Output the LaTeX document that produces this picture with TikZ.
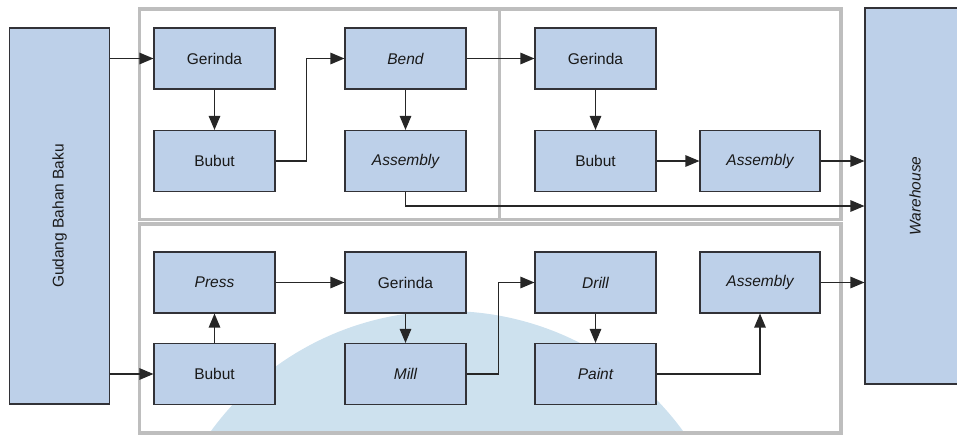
\documentclass[tikz,border=0pt]{standalone}
\usepackage{fontspec}
\setmainfont{Liberation Sans}
\usetikzlibrary{arrows.meta}
\definecolor{boxfill}{RGB}{189,208,233}
\definecolor{boxline}{RGB}{50,50,55}
\definecolor{framegray}{RGB}{190,190,190}
\definecolor{markblue}{RGB}{205,225,238}
\tikzset{
  proc/.style={draw=boxline, fill=boxfill, line width=1.1pt, minimum width=121pt,
    minimum height=61pt, inner sep=0pt, text=black!90,
    font=\fontsize{15.5}{18}\selectfont},
  store/.style={proc, minimum width=100pt, minimum height=376pt},
  flow/.style={draw=black!85, line width=1.2pt, -{Triangle[length=14pt,width=11.5pt]}},
  groupframe/.style={draw=framegray, line width=3.5pt},
}
\begin{document}
\begin{tikzpicture}[x=1pt, y=-1pt]
  \useasboundingbox (0,0) rectangle (957,434);

  % faint background emblem
  \begin{scope}
    \clip (0,0) rectangle (957,434);
    \fill[markblue] (447,603) circle[radius=292];
  \end{scope}

  % process groups
  \draw[groupframe] (139.5,9) rectangle (499.5,219.5);
  \draw[groupframe] (499.5,9) rectangle (841,219.5);
  \draw[groupframe] (139.5,224) rectangle (841,433);

  % storage
  \node[store] (gudang) at (59.5,216) {\rotatebox{90}{Gudang Bahan Baku}};
  \node[store] (wh) at (915,196) {\rotatebox{90}{\itshape Warehouse}};

  % first product line
  \node[proc] (g1) at (214.5,58.5) {Gerinda};
  \node[proc] (u1) at (214.5,161) {Bubut};
  \node[proc] (bend) at (405.5,58.5) {\itshape Bend};
  \node[proc] (a1) at (405.5,161) {\itshape Assembly};
  \node[proc] (g2) at (595.5,58.5) {Gerinda};
  \node[proc] (u2) at (595.5,161) {Bubut};
  \node[proc, minimum width=120pt] (a2) at (760,161) {\itshape Assembly};

  % second product line
  \node[proc] (press) at (214.5,282.5) {\itshape Press};
  \node[proc] (u3) at (214.5,374) {Bubut};
  \node[proc] (g3) at (405.5,282.5) {Gerinda};
  \node[proc] (mill) at (405.5,374) {\itshape Mill};
  \node[proc] (drill) at (595.5,282.5) {\itshape Drill};
  \node[proc] (paint) at (595.5,374) {\itshape Paint};
  \node[proc, minimum width=120pt] (a3) at (760,282.5) {\itshape Assembly};

  \coordinate (ret) at (405.5,206);

  % flows, first line
  \draw[flow] (gudang.east |- g1.west) -- (g1.west);
  \draw[flow] (g1.south) -- (u1.north);
  \draw[flow] (u1.east) -- ++(31,0) |- (bend.west);
  \draw[flow] (bend.east) -- (g2.west);
  \draw[flow] (bend.south) -- (a1.north);
  \draw[flow] (g2.south) -- (u2.north);
  \draw[flow] (u2.east) -- (a2.west);
  \draw[flow] (a2.east) -- (a2.east -| wh.west);
  \draw[flow] (a1.south) -- (ret) -- (ret -| wh.west);

  % flows, second line
  \draw[flow] (gudang.east |- u3.west) -- (u3.west);
  \draw[flow] (u3.north) -- (press.south);
  \draw[flow] (press.east) -- (g3.west);
  \draw[flow] (g3.south) -- (mill.north);
  \draw[flow] (mill.east) -- ++(32,0) |- (drill.west);
  \draw[flow] (drill.south) -- (paint.north);
  \draw[flow] (paint.east) -| (a3.south);
  \draw[flow] (a3.east) -- (a3.east -| wh.west);
\end{tikzpicture}
\end{document}
